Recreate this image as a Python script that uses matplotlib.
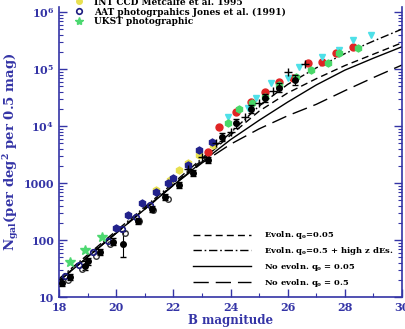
import numpy as np
import matplotlib
matplotlib.use("Agg")
import matplotlib.pyplot as plt
from matplotlib.ticker import FuncFormatter, MultipleLocator, LogLocator
from matplotlib.lines import Line2D

plt.rcParams['font.family'] = 'DejaVu Serif'
plt.rcParams['font.weight'] = 'bold'
plt.rcParams['mathtext.fontset'] = 'dejavuserif'

BLUE = '#3434a6'

# model curves (log10 N)
x_mod = [18, 19, 20, 21, 22, 23, 24, 25, 26, 27, 28, 29, 30]
evo_q005 = [1.29, 1.71, 2.13, 2.55, 2.97, 3.40, 3.84, 4.26, 4.58, 4.83, 5.06, 5.26, 5.46]
evo_q05_dEs = [1.32, 1.74, 2.16, 2.58, 3.00, 3.43, 3.88, 4.35, 4.73, 5.02, 5.27, 5.49, 5.70]
noevo_q005 = [1.28, 1.70, 2.12, 2.54, 2.96, 3.37, 3.76, 4.10, 4.42, 4.72, 4.98, 5.19, 5.39]
noevo_q05 = [1.28, 1.70, 2.12, 2.54, 2.96, 3.35, 3.68, 3.95, 4.18, 4.38, 4.62, 4.85, 5.07]

# data sets (log10 N)
x_blk = [18.1, 18.4, 18.9, 19.0, 19.45, 19.9, 20.25, 20.75, 21.25, 21.7, 22.2, 22.7, 23.2, 23.7, 24.2, 24.7, 25.2, 25.7, 26.25]
y_blk = [1.25, 1.35, 1.55, 1.63, 1.79, 1.97, 1.93, 2.33, 2.55, 2.75, 2.97, 3.18, 3.40, 3.81, 4.05, 4.30, 4.49, 4.67, 4.81]
e_blk = [0.06, 0.06, 0.08, 0.06, 0.06, 0.06, 0.22, 0.05, 0.05, 0.05, 0.05, 0.05, 0.05, 0.07, 0.08, 0.07, 0.07, 0.08, 0.09]

x_bo = [18.3, 18.8, 19.3, 19.8, 20.3, 20.8, 21.3, 21.8]
y_bo = [1.30, 1.50, 1.72, 1.93, 2.12, 2.33, 2.52, 2.72]

x_crs = [22.5, 23.0, 23.5, 24.0, 24.5, 25.0, 25.5, 26.0, 26.6]
y_crs = [3.25, 3.45, 3.70, 3.90, 4.15, 4.40, 4.62, 4.95, 5.08]

x_aat = [18.2, 18.7, 19.2, 19.7, 20.2, 20.7, 21.2]
y_aat = [1.36, 1.56, 1.79, 1.99, 2.20, 2.41, 2.61]

x_nav = [20.0, 20.4, 20.9, 21.4, 21.8, 22.0, 22.5, 22.9, 23.35]
y_nav = [2.21, 2.44, 2.65, 2.84, 3.00, 3.09, 3.32, 3.58, 3.72]

x_ukst = [18.4, 18.9, 19.5]
y_ukst = [1.61, 1.82, 2.05]

x_yel = [21.4, 21.9, 22.2, 22.5, 22.9, 23.4]
y_yel = [2.88, 3.05, 3.23, 3.35, 3.50, 3.66]

x_red = [23.2, 23.6, 24.2, 24.7, 25.2, 25.7, 26.2, 26.7, 27.2, 27.7, 28.3]
y_red = [3.54, 3.98, 4.25, 4.42, 4.60, 4.77, 4.84, 5.10, 5.12, 5.28, 5.39]

x_cyn = [23.9, 24.6, 24.9, 25.4, 26.0, 26.4, 27.2, 27.8, 28.3, 28.9]
y_cyn = [4.16, 4.32, 4.49, 4.75, 4.84, 5.04, 5.21, 5.33, 5.51, 5.60]

x_grn = [23.9, 24.3, 24.75, 25.2, 25.7, 26.3, 26.8, 27.4, 27.8, 28.45]
y_grn = [4.05, 4.30, 4.40, 4.51, 4.72, 4.86, 4.98, 5.10, 5.28, 5.37]

model_labels = ["Evoln. q$_{\\mathbf{o}}$=0.05",
                "Evoln. q$_{\\mathbf{o}}$=0.5 + high z dEs.",
                "No evoln. q$_{\\mathbf{o}}$ = 0.05",
                "No evoln. q$_{\\mathbf{o}}$ = 0.5"]
data_labels = ["INT CCD Metcalfe et al. 1995",
               "AAT photogrpahics Jones et al. (1991)",
               "UKST photographic"]


def p(v):
    return 10 ** np.asarray(v)


fig = plt.figure(figsize=(4.05, 3.29), dpi=100)
ax = fig.add_axes([59 / 405, 32 / 329, 343 / 405, 290 / 329])

ls_dash = (0, (5, 3))
ls_dd = (0, (6, 2, 1.2, 2))
ls_long = (0, (11, 5))
ax.plot(x_mod, p(evo_q005), color='k', lw=1, ls=ls_dash)
ax.plot(x_mod, p(evo_q05_dEs), color='k', lw=1, ls=ls_dd)
ax.plot(x_mod, p(noevo_q005), color='k', lw=1, ls='-')
ax.plot(x_mod, p(noevo_q05), color='k', lw=1, ls=ls_long)

yb = np.array(y_blk)
eb = np.array(e_blk)
ax.errorbar(x_blk, p(yb), yerr=[p(yb) - p(yb - eb), p(yb + eb) - p(yb)],
            fmt='o', color='k', ms=4, capsize=2, elinewidth=0.8, zorder=4)
ax.plot(x_bo, p(y_bo), 'o', mfc='none', mec='#333333', ms=4, mew=1, zorder=4)
ax.plot(x_crs, p(y_crs), '+', color='k', ms=6, mew=1, zorder=5)
ax.plot(x_aat, p(y_aat), 'o', mfc='none', mec='#1c1c80', ms=4, mew=1.2, zorder=4)
ax.plot(x_nav, p(y_nav), 'h', color='#22228c', ms=5, zorder=4)
ax.plot(x_ukst, p(y_ukst), '*', color='#4cd870', ms=7, zorder=4)
ax.plot(x_yel, p(y_yel), 'h', color='#e8e050', ms=5, zorder=3)
ax.plot(x_red, p(y_red), 'o', color='#e02424', ms=5, zorder=3)
ax.plot(x_cyn, p(y_cyn), 'v', color='#4ee0e8', ms=5, zorder=3)
ax.plot(x_grn, p(y_grn), 'h', color='#48d868', ms=5, zorder=3)

ax.set_yscale('log')
ax.set_xlim(18, 30)
ax.set_ylim(10, 10 ** 6.088)
ax.xaxis.set_major_locator(MultipleLocator(2))
ax.xaxis.set_minor_locator(MultipleLocator(1))
ax.yaxis.set_major_locator(LogLocator(10))
ax.yaxis.set_minor_locator(LogLocator(10, subs=np.arange(2, 10)))


def yfmt(v, pos):
    if v < 1e4:
        return "%d" % v
    return r"$\mathbf{10^{%d}}$" % round(np.log10(v))


ax.yaxis.set_major_formatter(FuncFormatter(yfmt))
ax.yaxis.set_minor_formatter(FuncFormatter(lambda v, pos: ""))
ax.tick_params(which='both', direction='in', right=True, top=False,
               colors=BLUE, labelsize=8)
ax.tick_params(which='major', length=6, width=1)
ax.tick_params(which='minor', length=3, width=0.8)
for side in ['left', 'right', 'bottom']:
    ax.spines[side].set_color(BLUE)
    ax.spines[side].set_linewidth(1.2)
ax.spines['top'].set_visible(False)

ax.set_xlabel("B magnitude", color=BLUE, fontsize=8.5, fontweight='bold', labelpad=1)
ax.set_ylabel("N$_{\\mathbf{gal}}$(per deg$^{\\mathbf{2}}$ per 0.5 mag)",
              color=BLUE, fontsize=9.5, fontweight='bold', labelpad=2)

h_mod = [Line2D([], [], color='k', lw=1, ls=ls_dash),
         Line2D([], [], color='k', lw=1, ls=ls_dd),
         Line2D([], [], color='k', lw=1, ls='-'),
         Line2D([], [], color='k', lw=1, ls=ls_long)]
leg1 = ax.legend(h_mod, model_labels, loc='lower right', bbox_to_anchor=(1.0, 0.0),
                 frameon=False, fontsize=6, handlelength=7, handletextpad=1.6,
                 labelspacing=0.45, borderaxespad=0.6)
ax.add_artist(leg1)

h_dat = [Line2D([], [], ls='none', marker='o', color='#e8e050', ms=4),
         Line2D([], [], ls='none', marker='o', mfc='none', mec='#1c1c80', ms=4, mew=1.2),
         Line2D([], [], ls='none', marker='*', color='#4cd870', ms=6)]
ax.legend(h_dat, data_labels, loc='upper left', bbox_to_anchor=(0.035, 1.045),
          frameon=False, fontsize=6.5, handlelength=1, handletextpad=1.2,
          labelspacing=0.1, borderaxespad=0)

fig.savefig('out.png', dpi=100)
